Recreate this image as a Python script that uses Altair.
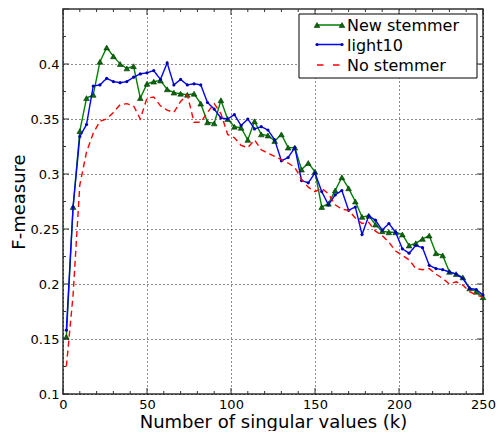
import altair as alt
import pandas as pd

# ---- data ----
k_values = list(range(2, 251, 4))

new_stemmer = [0.152, 0.270, 0.339, 0.369, 0.372, 0.402, 0.415, 0.407, 0.400, 0.396,
               0.398, 0.369, 0.382, 0.384, 0.385, 0.377, 0.374, 0.373, 0.372, 0.373,
               0.364, 0.347, 0.346, 0.367, 0.350, 0.343, 0.342, 0.331, 0.348, 0.336,
               0.335, 0.330, 0.336, 0.324, 0.324, 0.304, 0.310, 0.302, 0.270, 0.273,
               0.285, 0.297, 0.287, 0.275, 0.261, 0.262, 0.254, 0.248, 0.247, 0.247,
               0.245, 0.235, 0.237, 0.241, 0.244, 0.228, 0.226, 0.211, 0.209, 0.206,
               0.196, 0.193, 0.188]

light10 = [0.158, 0.270, 0.334, 0.345, 0.380, 0.381, 0.387, 0.384, 0.383, 0.384,
           0.388, 0.391, 0.392, 0.394, 0.386, 0.401, 0.381, 0.386, 0.381, 0.382,
           0.381, 0.365, 0.359, 0.351, 0.350, 0.354, 0.344, 0.350, 0.341, 0.343,
           0.340, 0.331, 0.312, 0.315, 0.324, 0.294, 0.292, 0.301, 0.284, 0.272,
           0.281, 0.285, 0.267, 0.270, 0.245, 0.262, 0.258, 0.249, 0.255, 0.247,
           0.232, 0.228, 0.235, 0.233, 0.217, 0.214, 0.213, 0.211, 0.209, 0.205,
           0.196, 0.195, 0.190]

no_stemmer = [0.125, 0.190, 0.290, 0.320, 0.337, 0.348, 0.350, 0.356, 0.363, 0.364,
              0.362, 0.350, 0.369, 0.370, 0.362, 0.358, 0.356, 0.366, 0.372, 0.347,
              0.347, 0.356, 0.364, 0.355, 0.336, 0.333, 0.326, 0.324, 0.331, 0.322,
              0.319, 0.316, 0.313, 0.310, 0.306, 0.295, 0.288, 0.284, 0.287, 0.282,
              0.272, 0.268, 0.267, 0.260, 0.255, 0.256, 0.248, 0.244, 0.238, 0.230,
              0.226, 0.222, 0.214, 0.213, 0.214, 0.209, 0.205, 0.200, 0.202, 0.199,
              0.193, 0.190, 0.188]

series_names = ["New stemmer", "light10", "No stemmer"]
series_colors = ["#008000", "#0000ff", "#ff0000"]
series_dash = [[1, 0], [1, 0], [6, 4]]
legend_dash = [[1, 0], [1, 0], [6.5, 9.5]]

x_ticks = [0, 50, 100, 150, 200, 250]
x_minor = [10, 20, 30, 40, 60, 70, 80, 90, 110, 120, 130, 140, 160, 170, 180, 190,
           210, 220, 230, 240]
y_ticks = [0.1, 0.15, 0.2, 0.25, 0.3, 0.35, 0.4]
y_minor = [0.125, 0.175, 0.225, 0.275, 0.325, 0.375, 0.425]
y_frame_ticks = [0.1, 0.15, 0.2, 0.25, 0.3, 0.35, 0.4, 0.45]

W, H = 420, 385
FRAME = "#333333"
TRI_FILL, TRI_EDGE = "#0a6a0a", "#003300"
DOT = "#0000aa"

rows = []
for name, vals in zip(series_names, [new_stemmer, light10, no_stemmer]):
    for k, f in zip(k_values, vals):
        rows.append({"k": k, "f": f, "series": name})
df = pd.DataFrame(rows)

x_enc = alt.X(
    "k:Q",
    scale=alt.Scale(domain=[0, 250], nice=False, zero=False),
    axis=alt.Axis(values=x_ticks, title="Number of singular values (k)",
                  grid=True, gridDash=[1, 3], gridColor="black", gridOpacity=0.9,
                  tickSize=0, domain=False, labelPadding=4, labelFontSize=13,
                  labelFont="DejaVu Sans", labelColor="black", labelFlush=False,
                  titleFont="DejaVu Sans", titleFontSize=18, titleFontWeight="normal",
                  titleColor="black", titlePadding=2),
)
y_enc = alt.Y(
    "f:Q",
    scale=alt.Scale(domain=[0.1, 0.45], nice=False, zero=False),
    axis=alt.Axis(values=y_ticks, format="~g", title="F-measure",
                  grid=True, gridDash=[1, 3], gridColor="black", gridOpacity=0.9,
                  tickSize=0, domain=False, labelPadding=4, labelFontSize=13,
                  labelFont="DejaVu Sans", labelColor="black", labelFlush=False,
                  titleFont="DejaVu Sans", titleFontSize=18, titleFontWeight="normal",
                  titleColor="black", titlePadding=2),
)

color_scale = alt.Scale(domain=series_names, range=series_colors)
base = alt.Chart(df)


def line_layer(name, dash):
    return base.transform_filter(alt.datum.series == name).mark_line(
        strokeWidth=1.4, strokeDash=dash, clip=True
    ).encode(x=x_enc, y=y_enc,
             color=alt.Color("series:N", scale=color_scale, legend=None))


green_line = line_layer(series_names[0], series_dash[0])
green_pts = base.transform_filter(alt.datum.series == series_names[0]).mark_point(
    shape="triangle-up", filled=True, size=32, fill=TRI_FILL, stroke=TRI_EDGE,
    strokeWidth=0.6, opacity=1
).encode(x="k:Q", y="f:Q")
blue_line = line_layer(series_names[1], series_dash[1])
blue_pts = base.transform_filter(alt.datum.series == series_names[1]).mark_circle(
    size=10, color=DOT, opacity=1
).encode(x="k:Q", y="f:Q")
red_line = line_layer(series_names[2], series_dash[2])

# inward frame ticks (matplotlib style, on all four sides)
xt_major = alt.Chart(pd.DataFrame({"k": x_ticks}))
xt_minor = alt.Chart(pd.DataFrame({"k": x_minor}))
yt_major = alt.Chart(pd.DataFrame({"f": y_frame_ticks}))
yt_minor = alt.Chart(pd.DataFrame({"f": y_minor}))
tick_style = dict(color=FRAME, strokeWidth=1)
ticks = [
    xt_major.mark_rule(**tick_style).encode(x="k:Q", y=alt.value(H), y2=alt.value(H - 6)),
    xt_major.mark_rule(**tick_style).encode(x="k:Q", y=alt.value(0), y2=alt.value(6)),
    xt_minor.mark_rule(**tick_style).encode(x="k:Q", y=alt.value(H), y2=alt.value(H - 3)),
    xt_minor.mark_rule(**tick_style).encode(x="k:Q", y=alt.value(0), y2=alt.value(3)),
    yt_major.mark_rule(**tick_style).encode(y="f:Q", x=alt.value(0), x2=alt.value(6)),
    yt_major.mark_rule(**tick_style).encode(y="f:Q", x=alt.value(W), x2=alt.value(W - 6)),
    yt_minor.mark_rule(**tick_style).encode(y="f:Q", x=alt.value(0), x2=alt.value(3)),
    yt_minor.mark_rule(**tick_style).encode(y="f:Q", x=alt.value(W), x2=alt.value(W - 3)),
]

# legend box (top right, inside the frame)
LX0, LX1, LY0, LY1 = 236, 414, 5, 69
SYM0, SYM1, TXT = 254, 279, 284
ROW_Y = [16, 35.5, 56]

legend_layers = [
    alt.Chart(pd.DataFrame({"s": ["box"]})).mark_rect(
        fill="white", stroke="black", strokeWidth=1
    ).encode(x=alt.value(LX0), x2=alt.value(LX1), y=alt.value(LY0), y2=alt.value(LY1))
]
for i, name in enumerate(series_names):
    row = alt.Chart(pd.DataFrame({"series": [name]}))
    ry = ROW_Y[i]
    legend_layers.append(
        row.mark_rule(color=series_colors[i], strokeWidth=1.4, strokeDash=legend_dash[i])
        .encode(x=alt.value(SYM0), x2=alt.value(SYM1), y=alt.value(ry))
    )
    if i == 0:
        for sx in (SYM0, SYM1):
            legend_layers.append(
                row.mark_point(shape="triangle-up", filled=True, size=32, fill=TRI_FILL,
                               stroke=TRI_EDGE, strokeWidth=0.6, opacity=1)
                .encode(x=alt.value(sx), y=alt.value(ry))
            )
    if i == 1:
        for sx in (SYM0, SYM1):
            legend_layers.append(
                row.mark_circle(size=10, color=DOT, opacity=1)
                .encode(x=alt.value(sx), y=alt.value(ry))
            )
    legend_layers.append(
        row.mark_text(align="left", baseline="middle", fontSize=16,
                      font="DejaVu Sans", color="black")
        .encode(x=alt.value(TXT), y=alt.value(ry + 1), text="series:N")
    )

chart = alt.layer(
    green_line, green_pts, blue_line, blue_pts, red_line, *ticks, *legend_layers
).properties(
    width=W, height=H,
    padding={"left": 2, "top": 0, "right": 0, "bottom": 0},
).configure_view(
    stroke=FRAME, strokeWidth=1.5
)

chart.save("out.html", embed_options={"renderer": "svg", "actions": False})
